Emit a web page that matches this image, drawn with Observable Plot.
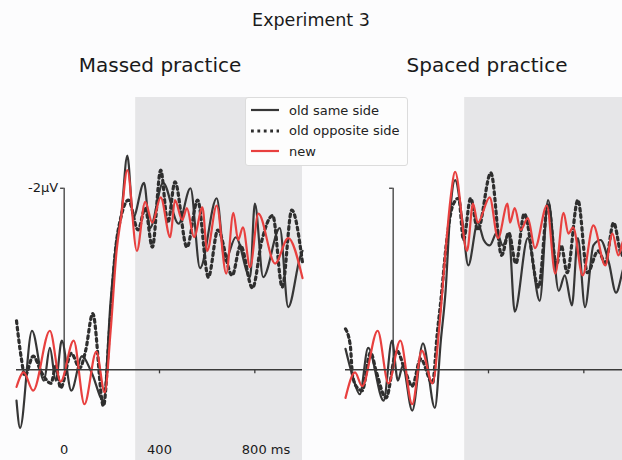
<!DOCTYPE html>
<html><head><meta charset="utf-8">
<script src="https://cdn.jsdelivr.net/npm/d3@7"></script>
<script src="https://cdn.jsdelivr.net/npm/@observablehq/plot@0.6"></script>
<style>
body{margin:0;background:#fcfcfd;font-family:"DejaVu Sans",sans-serif;}
#wrap{position:relative;width:622px;height:460px;overflow:hidden;background:#fcfcfd;}
.t{position:absolute;color:#1a1a1a;white-space:nowrap;transform:translateX(-50%);line-height:1;}
.panel{position:absolute;top:97px;width:310px;height:363px;}
.panel svg{max-width:none !important;width:310px;height:363px;}
#legend{position:absolute;left:245px;top:97px;width:161px;height:67px;background:#fdfdfd;border:1px solid #dcdcdc;border-radius:3px;font-size:13px;color:#222;}
#legend .row{position:absolute;left:4px;height:16px;display:flex;align-items:center;}
#legend .row span{margin-left:9px;}
</style></head><body>
<div id="wrap">
  <div class="t" style="left:311px;top:12px;font-size:17.5px">Experiment 3</div>
  <div class="t" style="left:160px;top:55px;font-size:20px">Massed practice</div>
  <div class="t" style="left:487px;top:55px;font-size:20px">Spaced practice</div>
  <div id="left" class="panel" style="left:0px"></div>
  <div id="right" class="panel" style="left:329px"></div>
  <div id="legend"></div>
</div>
<script>
// ---- data (time in ms, amplitude in µV; negative plotted up) ----
const seriesNames = ["old same side", "old opposite side", "new"];

const massedSameT = [-200,-185,-135,-85,-60,-35,-10,30,75,115,165,195,220,240,265,290,335,360,415,480,530,570,640,675,720,780,800,835,905,940,990,1000];
const massedSameV = [0.34,0.64,-0.43,0.12,-0.24,0.12,-0.32,0.23,-0.15,0.03,0.34,-0.76,-1.43,-1.72,-2.36,-1.68,-2.06,-1.56,-2.06,-1.61,-2.0,-1.12,-1.89,-1.2,-1.46,-1.02,-1.83,-1.02,-1.56,-0.69,-1.24,-1.31];

const massedOppT = [-200,-180,-165,-130,-95,-55,-35,-15,30,65,90,120,165,190,215,240,270,310,340,370,405,435,465,515,560,605,645,705,740,790,830,875,915,955,1000];
const massedOppV = [-0.54,-0.13,0.07,-0.15,0.03,0.15,-0.04,0.2,-0.18,-0.02,-0.21,-0.62,0.4,-0.43,-1.31,-1.7,-1.87,-1.54,-1.78,-1.35,-2.2,-1.62,-2.07,-1.35,-1.87,-1.02,-1.54,-1.04,-1.37,-0.9,-1.43,-1.7,-0.91,-1.76,-1.18];

const massedNewT = [-200,-170,-130,-60,-15,40,85,135,170,195,220,240,265,305,340,370,405,445,465,495,515,545,580,600,640,680,710,730,750,780,815,885,940,1000];
const massedNewV = [0.19,0.03,0.23,-0.43,0.13,-0.32,0.38,-0.2,0.25,-0.43,-1.31,-1.7,-2.2,-1.31,-1.85,-1.62,-1.9,-1.46,-1.87,-1.65,-1.78,-1.46,-1.79,-1.31,-1.81,-1.06,-1.73,-1.43,-1.57,-1.13,-1.72,-1.17,-1.45,-1.01];

const spacedSameT = [-200,-170,-140,-105,-40,-5,20,40,80,125,175,200,220,240,260,290,315,355,380,405,435,460,485,510,565,615,650,695,720,750,775,805,840,870,905,935,970,1000];
const spacedSameV = [-0.23,0.07,0.27,-0.24,0.34,-0.32,0.12,-0.04,0.45,-0.29,0.42,-0.32,-0.87,-1.76,-2.09,-1.65,-1.15,-1.62,-1.43,-1.37,-1.51,-1.37,-1.5,-0.64,-1.45,-0.76,-1.87,-0.87,-1.04,-0.71,-1.45,-0.69,-1.37,-1.43,-1.18,-0.85,-1.15,-1.26];

const spacedOppT = [-200,-180,-170,-150,-130,-95,-70,-30,15,50,80,115,165,185,200,225,250,275,295,325,355,410,455,485,515,550,610,650,685,705,730,775,815,860,890,925,960,1000];
const spacedOppV = [-0.45,-0.27,0.07,0.2,0.23,-0.19,0.03,0.31,-0.21,0.01,0.18,-0.12,0.15,-0.4,-0.76,-1.43,-1.81,-1.89,-1.43,-1.89,-1.54,-2.17,-1.26,-1.51,-1.17,-1.72,-0.91,-1.83,-1.15,-1.37,-1.07,-1.87,-1.07,-1.31,-1.18,-1.62,-1.26,-1.37];

const spacedNewT = [-200,-160,-130,-65,-20,30,80,120,165,195,220,240,260,310,335,355,405,440,480,490,510,535,565,595,645,680,715,735,755,795,840,890,920,945,970,1000];
const spacedNewV = [0.31,0.03,0.18,-0.43,0.15,-0.32,0.38,-0.21,0.15,-0.51,-1.31,-1.87,-2.18,-1.31,-1.83,-1.62,-1.9,-1.45,-1.83,-1.62,-1.78,-1.54,-1.67,-1.34,-1.81,-1.06,-1.73,-1.5,-1.57,-1.04,-1.59,-1.15,-1.5,-1.26,-1.45,-1.31];

const shadeWindow = [{start: 300, end: 1000}];
const tickTimes = [0, 400, 800];
const tickLabels = ["0", "400", "800 ms"];
const yTickValue = -2;
const yTickLabel = "-2\u03bcV";

const colors = {"old same side": "#363636", "old opposite side": "#2e2e2e", "new": "#e8403f"};
const styles = {
  "old same side": {strokeWidth: 2.2},
  "old opposite side": {strokeWidth: 3.2, strokeDasharray: "2.8,3.6"},
  "new": {strokeWidth: 2.2}
};

const toRows = (T, V) => T.map((t, i) => ({t, v: V[i]}));

function panel(sets, showLabels) {
  const marks = [
    Plot.rect(shadeWindow, {x1: "start", x2: "end", fill: "#e6e6e8"})
  ];
  seriesNames.forEach((name, k) => {
    marks.push(Plot.line(sets[k], {x: "t", y: "v", curve: "monotone-x", stroke: colors[name], strokeLinejoin: "round", ...styles[name]}));
  });
  marks.push(
    Plot.ruleY([0], {stroke: "#3a3a3a", strokeWidth: 1.3}),
    Plot.ruleX([0], {y1: 0, y2: yTickValue, stroke: "#3a3a3a", strokeWidth: 1.3}),
    Plot.ruleY([yTickValue], {x1: -15, x2: 0, stroke: "#3a3a3a", strokeWidth: 1.3}),
    Plot.ruleX(tickTimes.slice(1), {y1: 0, y2: 0.045, stroke: "#3a3a3a", strokeWidth: 1.3})
  );
  if (showLabels) {
    const ticks = tickTimes.map((t, i) => ({t, label: tickLabels[i]}));
    marks.push(
      Plot.text(ticks.slice(0, 2), {x: "t", y: () => 0.885, text: "label", fontSize: 13, fill: "#1a1a1a"}),
      Plot.text(ticks.slice(2), {x: "t", y: () => 0.885, text: "label", textAnchor: "start", dx: -13, fontSize: 13, fill: "#1a1a1a"}),
      Plot.text([yTickLabel], {x: 0, y: () => yTickValue, text: d => d, textAnchor: "end", dx: -6, fontSize: 13, fill: "#1a1a1a"})
    );
  }
  return Plot.plot({
    width: 310, height: 363,
    marginLeft: 16, marginRight: 8, marginTop: 0, marginBottom: 0,
    x: {domain: [-200, 1000], axis: null},
    y: {domain: [1, -3], axis: null},
    style: {background: "transparent", fontFamily: "DejaVu Sans", overflow: "visible", maxWidth: "none"},
    marks
  });
}

document.getElementById("left").append(panel([
  toRows(massedSameT, massedSameV), toRows(massedOppT, massedOppV), toRows(massedNewT, massedNewV)
], true));
document.getElementById("right").append(panel([
  toRows(spacedSameT, spacedSameV), toRows(spacedOppT, spacedOppV), toRows(spacedNewT, spacedNewV)
], false));

// legend
const legend = document.getElementById("legend");
seriesNames.forEach((name, i) => {
  const row = document.createElement("div");
  row.className = "row";
  row.style.top = (4 + i * 20.5) + "px";
  const st = styles[name];
  row.innerHTML = `<svg width="30" height="8"><line x1="1" x2="29" y1="4" y2="4" stroke="${colors[name]}" stroke-width="${st.strokeWidth}" ${st.strokeDasharray ? `stroke-dasharray="${st.strokeDasharray}"` : ""}/></svg><span>${name}</span>`;
  legend.append(row);
});
</script>
</body></html>
